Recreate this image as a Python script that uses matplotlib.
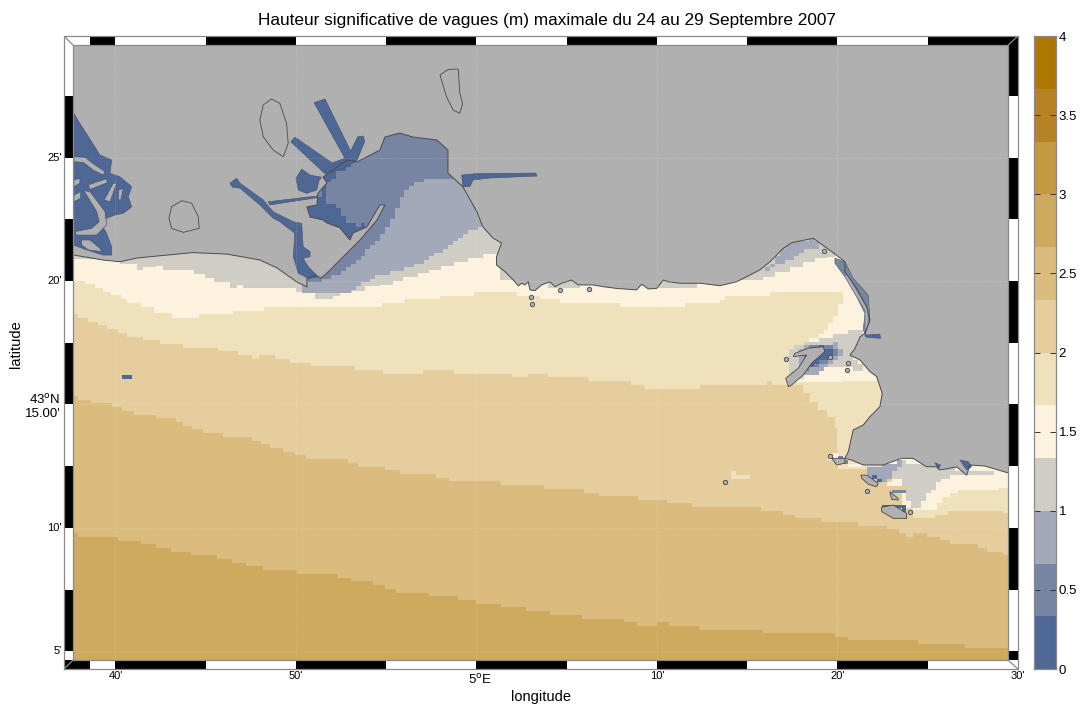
import numpy as np
import matplotlib
matplotlib.use("Agg")
import matplotlib.pyplot as plt
from matplotlib.colors import ListedColormap, BoundaryNorm
from matplotlib.path import Path

plt.rcParams['font.family'] = ['Liberation Sans', 'DejaVu Sans']

# longitudes and latitudes are in minutes: lon 60 = 5 deg E, lat minutes after 43 deg N
TITLE = "Hauteur significative de vagues (m) maximale du 24 au 29 Septembre 2007"

levels = [0, 1/3, 2/3, 1, 4/3, 5/3, 2, 7/3, 8/3, 3, 10/3, 11/3, 4]
band_colors = ['#4f6794', '#7785a3', '#a3a9b8', '#d0cdc5', '#fdf2de', '#f0e1bd',
               '#e6cd9e', '#dbbc7e', '#cdaa5e', '#c39a42', '#b78222', '#ae7800']
cbar_ticks = [0, 0.5, 1, 1.5, 2, 2.5, 3, 3.5, 4]
cbar_labels = ['0', '0.5', '1', '1.5', '2', '2.5', '3', '3.5', '4']

LAND = '#b0b0b0'
LON_MIN, LON_MAX = 37.65, 89.45
LAT_MIN, LAT_MAX = 4.65, 29.55
CELL_LON, CELL_LAT = 0.27, 0.15

# upper limit of each wave height band, (start of step, lat)
limit_b8 = [(37.65, 9.79), (37.94, 9.64), (40.14, 9.49), (41.41, 9.34), (42.24, 9.19), (43.07, 9.04),
            (44.18, 8.89), (45.62, 8.74), (46.45, 8.58), (47.23, 8.45), (48.17, 8.30), (50.06, 8.14),
            (52.33, 7.99), (53.05, 7.84), (54.27, 7.69), (54.93, 7.53), (55.54, 7.38), (57.37, 7.25),
            (58.98, 7.09), (59.97, 6.94), (61.36, 6.79), (62.74, 6.64), (64.07, 6.48), (65.84, 6.33),
            (68.17, 6.18), (68.89, 6.04), (70.0, 6.18), (70.66, 6.04), (72.33, 5.88), (75.87, 5.75),
            (79.86, 5.60), (80.58, 5.45), (84.46, 5.29), (87.06, 5.14)]
limit_b7 = [(37.65, 15.36), (37.94, 15.19), (38.64, 15.05), (39.79, 14.90), (40.34, 14.74), (41.02, 14.59),
            (42.24, 14.45), (43.35, 14.29), (43.74, 14.14), (44.24, 14.0), (44.85, 13.85), (45.96, 13.70),
            (47.56, 13.53), (48.06, 13.39), (48.56, 13.24), (49.28, 13.09), (49.94, 12.96), (50.55, 12.79),
            (52.88, 12.64), (53.43, 12.48), (54.93, 12.35), (55.76, 12.20), (57.76, 12.04), (58.48, 11.89),
            (61.36, 11.74), (63.74, 11.59), (65.96, 11.43), (66.79, 11.30), (68.95, 11.13), (70.55, 11.0),
            (71.94, 10.85), (75.76, 10.69), (76.98, 10.54), (77.65, 10.39), (79.09, 10.24), (81.14, 10.08),
            (82.74, 9.95), (83.41, 9.80), (83.8, 9.65), (84.19, 9.79), (84.96, 9.65), (85.68, 9.50),
            (86.24, 9.35), (87.79, 9.20), (88.29, 9.04), (89.17, 8.89)]
limit_b6 = [(37.65, 18.66), (37.94, 18.51), (38.49, 18.35), (39.05, 18.21), (39.51, 18.06), (40.16, 17.89),
            (40.62, 17.74), (41.51, 17.60), (42.47, 17.45), (43.76, 17.30), (45.66, 17.15), (46.77, 17.0),
            (47.55, 16.84), (47.95, 17.0), (48.85, 16.84), (49.67, 16.69), (50.83, 16.55), (53.27, 16.40),
            (54.84, 16.23), (57.05, 16.40), (58.75, 16.23), (61.97, 16.10), (62.86, 16.23), (63.96, 16.10),
            (66.25, 15.95), (68.54, 15.79), (69.33, 15.64), (72.38, 15.79), (76.09, 15.95), (76.37, 15.79),
            (78.09, 15.47), (78.48, 15.10), (78.92, 14.78), (79.42, 14.49), (79.86, 14.05), (79.97, 13.16),
            (80.03, 12.39), (84.19, 10.40), (85.41, 10.53), (86.13, 10.69), (89.17, 10.61)]
limit_b5 = [(37.65, 20.0), (38.31, 19.87), (38.86, 19.72), (39.32, 19.57), (39.73, 19.42), (40.29, 19.26),
            (40.65, 19.11), (41.41, 18.94), (42.15, 18.69), (43.11, 18.51), (44.64, 18.65), (46.53, 18.80),
            (48.23, 18.95), (54.75, 19.10), (56.04, 19.26), (57.98, 19.39), (59.88, 19.55), (62.26, 19.39),
            (63.52, 19.26), (64.63, 19.12), (67.96, 18.96), (71.55, 19.12), (73.49, 19.23), (73.77, 19.39),
            (76.26, 19.57), (80.30, 15.95), (82.58, 12.39), (84.19, 10.73), (85.52, 11.01), (85.85, 11.26),
            (86.24, 11.42), (86.68, 11.54), (88.89, 11.62)]
limit_b4 = [(37.65, 20.88), (40.25, 20.68), (41.17, 20.45), (41.54, 20.58), (42.23, 20.61), (42.65, 20.45),
            (44.35, 20.28), (44.96, 20.11), (45.47, 19.95), (46.34, 19.73), (46.71, 19.84), (47.08, 19.70),
            (49.98, 19.57), (51.05, 19.26), (52.05, 19.39), (52.44, 19.53), (53.09, 19.60), (53.82, 19.80),
            (54.65, 19.84), (55.36, 20.0), (55.91, 20.15), (56.78, 20.31), (57.38, 20.45), (58.03, 20.61),
            (58.75, 20.76), (59.55, 20.92), (60.38, 21.08), (61.30, 20.04), (63.96, 19.72), (65.73, 20.04),
            (70.0, 19.72), (72.22, 20.04), (75.87, 20.16), (76.53, 20.36), (77.36, 20.57), (78.09, 20.77),
            (78.76, 20.93), (79.42, 20.97), (79.86, 23.28)]
band_limits = [(7, limit_b8), (6, limit_b7), (5, limit_b6), (4, limit_b5), (3, limit_b4)]

# sea patches that the band limits cannot give, (band index, outline), painted in order on the model cells
gulf_light = [(50.78, 19.55), (52.99, 19.55), (54.49, 20.24), (55.93, 20.45), (57.26, 20.85), (58.70, 21.54),
              (60.30, 22.27), (60.30, 24.49), (50.22, 24.49), (50.22, 19.55)]
gulf_mid = [(50.22, 26.11), (59.08, 26.11), (59.08, 24.25), (58.42, 24.21), (57.26, 24.21), (55.93, 23.56),
            (55.37, 22.47), (54.49, 21.54), (53.16, 20.73), (52.05, 20.16), (50.78, 19.92), (50.22, 19.92)]
gulf_dark = [(53.36, 24.86), (52.90, 24.61), (52.44, 24.45), (52.07, 24.20), (51.70, 23.89), (51.70, 23.15),
             (52.29, 22.99), (52.90, 22.40), (53.45, 22.23), (53.92, 22.40), (54.01, 22.20), (53.55, 21.79),
             (52.82, 21.66), (51.70, 22.34), (50.40, 22.60), (50.40, 23.08), (51.33, 23.41), (51.23, 24.22),
             (51.88, 24.41)]
wedge_cream = [(80.41, 19.64), (80.02, 18.70), (79.47, 18.10), (78.75, 17.61), (80.41, 17.61)]
frioul_cream = [(77.26, 15.87), (80.41, 15.87), (80.41, 17.81), (78.48, 17.69), (77.26, 16.80)]
frioul_gray = [(78.75, 17.61), (79.96, 17.81), (81.25, 18.08), (81.43, 17.81), (80.78, 17.0), (81.62, 16.26),
               (80.51, 16.53), (78.85, 16.53), (77.92, 15.99), (77.27, 15.99), (77.27, 17.07), (77.74, 17.34)]
frioul_light = [(77.92, 17.14), (78.36, 17.41), (79.96, 17.48), (80.36, 17.07), (79.75, 16.67), (78.85, 16.26),
                (77.92, 16.13)]
frioul_mid = [(78.10, 17.14), (78.48, 17.34), (79.86, 17.41), (80.04, 17.0), (79.40, 16.67), (78.57, 16.47),
              (78.10, 16.26)]
frioul_dark = [(78.48, 17.14), (79.03, 17.37), (79.76, 17.27), (79.76, 16.93), (79.03, 16.73), (78.48, 16.53)]
bleue_light = [(75.87, 20.32), (76.97, 21.26), (77.46, 21.54), (78.64, 21.70), (79.08, 21.38), (78.09, 21.26),
               (77.46, 20.85), (76.64, 20.65)]
calanques_gray = [(82.45, 12.48), (83.64, 12.69), (85.67, 12.48), (86.59, 12.35), (89.45, 12.35), (89.45, 12.24),
                  (86.59, 12.19), (85.70, 11.94), (84.37, 10.73), (84.0, 10.86), (83.82, 11.27), (83.64, 11.82),
                  (83.27, 12.0), (82.45, 11.94)]
calanques_light = [(81.62, 12.41), (83.64, 12.72), (83.27, 12.35), (82.90, 12.0), (82.53, 11.80), (81.79, 12.07)]
calanques_dark = [(81.69, 12.27), (81.91, 12.15), (82.45, 11.94), (82.35, 11.81), (81.96, 12.01)]
riou_dark = [(82.53, 11.0), (83.46, 11.0), (84.01, 10.80), (83.83, 10.60), (83.09, 10.86), (82.50, 10.80)]
jarre_mid = [(83.19, 11.67), (83.64, 11.54), (83.79, 11.33), (83.42, 11.33), (83.13, 11.47)]
cream_a = [(82.72, 11.81), (83.09, 12.0), (83.64, 12.0), (83.55, 11.74), (82.90, 11.70)]
cream_b = [(83.64, 11.47), (84.23, 10.66), (83.64, 10.93)]
marseille_cream = [(79.74, 13.09), (80.49, 12.72), (81.62, 12.46), (81.15, 12.42), (80.32, 12.55), (79.58, 12.82)]
marseille_mid = [(80.03, 12.91), (80.69, 12.75), (80.58, 12.58), (80.03, 12.66)]
south_patch = [(74.04, 12.21), (74.14, 12.32), (74.32, 12.21), (75.05, 12.21), (75.11, 12.35), (75.33, 12.32),
               (75.24, 12.05), (74.14, 12.05)]
lone_cell = [(40.43, 16.25), (40.84, 16.25), (40.84, 16.05), (40.43, 16.05)]
sea_patches = [(2, gulf_light), (1, gulf_mid), (0, gulf_dark), (4, wedge_cream), (4, frioul_cream), (3, frioul_gray),
               (2, frioul_light), (1, frioul_mid), (0, frioul_dark), (2, bleue_light), (3, calanques_gray),
               (2, calanques_light), (0, calanques_dark), (0, riou_dark), (1, jarre_mid), (4, cream_a), (4, cream_b),
               (4, marseille_cream), (1, marseille_mid), (5, south_patch), (0, lone_cell)]

coast = [(37.65, 21.05), (37.70, 21.05), (39.31, 20.85), (40.25, 20.78), (41.19, 20.93), (42.85, 21.05), (44.29, 21.15),
         (46.18, 21.09), (48.0, 20.85), (48.95, 20.53), (50.05, 19.96), (50.61, 19.76), (50.61, 20.08), (51.05, 20.24),
         (51.38, 20.12), (51.72, 20.32), (52.44, 20.85), (53.55, 21.66), (54.49, 22.47), (54.93, 23.08), (54.65, 23.08),
         (53.93, 22.19), (53.16, 21.94), (52.99, 21.66), (52.44, 22.15), (51.72, 22.35), (51.50, 22.47), (50.78, 22.59),
         (50.61, 23.0), (51.16, 23.08), (51.22, 23.56), (51.72, 23.97), (51.50, 24.21), (51.88, 24.41), (52.82, 24.90),
         (53.38, 24.82), (54.65, 25.30), (54.93, 25.83), (55.76, 25.99), (56.48, 25.83), (57.81, 25.71), (58.42, 25.30),
         (58.42, 24.37), (59.25, 23.81), (60.03, 22.79), (60.36, 22.19), (60.91, 21.74), (61.39, 21.54), (61.11, 20.98),
         (61.11, 20.65), (61.58, 20.38), (62.13, 19.97), (62.32, 19.80), (62.50, 19.91), (62.69, 19.84), (62.87, 19.97),
         (62.96, 19.64), (63.24, 19.61), (63.61, 19.84), (64.07, 19.97), (64.35, 19.77), (64.72, 19.91), (65.27, 20.04),
         (65.64, 19.84), (66.47, 19.84), (67.02, 19.77), (67.76, 19.70), (68.87, 19.64), (69.15, 19.87), (69.52, 19.68),
         (69.98, 19.70), (70.35, 20.04), (70.63, 19.97), (71.27, 19.91), (72.38, 19.91), (73.49, 19.81), (74.41, 19.97),
         (75.33, 20.31), (75.70, 20.45), (76.26, 20.78), (76.99, 21.32), (77.46, 21.55), (78.66, 21.73), (79.03, 21.53),
         (79.68, 21.19), (80.41, 20.78), (80.41, 20.38), (81.06, 19.70), (81.61, 18.96), (81.80, 18.42), (81.52, 17.88),
         (81.25, 17.74), (80.97, 17.27), (80.69, 17.0), (81.25, 16.80), (81.80, 16.33), (82.17, 16.13), (82.48, 15.45),
         (82.35, 14.91), (81.80, 14.51), (81.43, 14.17), (80.87, 13.97), (80.60, 13.09), (80.41, 12.82), (80.78, 12.75),
         (81.43, 12.55), (82.53, 12.55), (83.55, 12.82), (84.19, 12.82), (84.93, 12.48), (85.48, 12.48), (85.67, 12.35),
         (86.61, 12.47), (87.16, 12.14), (87.33, 12.55), (88.16, 12.51), (89.45, 12.23)]

# water inside the land
arm_ne = [(51.0, 27.22), (51.61, 27.37), (53.03, 25.26), (53.42, 25.84), (53.73, 25.87), (53.81, 25.64), (53.36, 24.86),
          (52.62, 24.56), (51.61, 24.34), (49.71, 25.64), (49.95, 25.82), (52.0, 24.78), (52.71, 24.97)]
pond_dark = [(50.32, 24.53), (50.0, 24.16), (50.13, 23.68), (50.59, 23.55), (51.15, 23.68), (51.29, 24.09),
             (51.42, 24.20), (50.78, 24.29)]
arm_w = [(46.34, 23.96), (46.71, 24.16), (46.90, 23.96), (48.19, 23.28), (48.74, 22.80), (49.85, 22.40), (50.32, 22.33),
         (50.40, 21.39), (50.78, 21.19), (50.78, 20.98), (50.40, 20.92), (50.68, 20.58), (51.23, 20.17), (50.68, 20.11),
         (50.13, 20.31), (49.85, 20.98), (49.94, 21.93), (49.11, 22.40), (48.72, 22.55), (48.0, 23.08), (46.90, 23.76),
         (46.49, 23.79)]
link = [(48.46, 23.21), (51.15, 23.44), (51.15, 23.37), (48.56, 23.08)]
port_canal = [(59.18, 24.29), (60.03, 24.35), (63.29, 24.37), (63.35, 24.25), (60.75, 24.17), (59.81, 24.09),
              (59.64, 23.82), (59.25, 23.82)]
delta = [(37.65, 26.79), (37.70, 26.79), (38.03, 26.38), (38.68, 25.64), (39.14, 25.10), (39.79, 24.90), (39.70, 24.36),
         (40.25, 24.22), (40.90, 23.82), (40.71, 23.41), (40.90, 23.0), (40.43, 22.74), (39.97, 22.67), (39.51, 22.54),
         (39.24, 22.27), (39.51, 21.93), (39.79, 21.39), (39.79, 21.05), (39.32, 21.05), (38.40, 21.26), (37.65, 21.46)]
coast_strip = [(79.86, 20.92), (80.41, 20.78), (80.87, 20.11), (81.70, 19.43), (81.80, 18.42), (81.52, 17.81),
               (81.61, 17.72), (81.43, 18.02), (81.52, 18.69), (81.06, 19.36), (80.41, 20.17), (79.86, 20.72)]
strip_end = [(81.52, 17.81), (82.35, 17.85), (82.39, 17.68), (81.61, 17.72)]
inlet_a = [(86.78, 12.75), (87.24, 12.69), (87.43, 12.48), (87.15, 12.35)]
inlet_b = [(85.40, 12.64), (85.71, 12.55), (85.58, 12.37)]
inland_water = [(0, arm_ne), (0, pond_dark), (0, arm_w), (0, link), (0, port_canal), (0, delta), (1, coast_strip),
                (0, strip_end), (0, inlet_a), (0, inlet_b)]
spit_lon = [80.51, 81.61, 81.61]
spit_lat = [20.17, 18.83, 18.16]

# bits of land inside the water
isle_a = [(37.70, 25.03), (38.31, 25.01), (38.86, 24.70), (39.42, 24.43), (39.32, 24.29), (38.77, 24.49),
          (38.22, 24.80), (37.70, 24.83)]
isle_b = [(38.49, 23.89), (39.51, 24.14), (39.55, 23.98), (38.59, 23.71)]
isle_c = [(38.25, 23.66), (38.59, 23.62), (39.42, 22.81), (39.51, 22.27), (38.96, 21.86), (37.85, 21.86), (37.76, 22.0),
          (38.68, 22.13), (39.10, 22.40), (38.96, 22.81)]
isle_d = [(39.38, 23.28), (39.88, 23.96), (40.07, 23.96), (39.70, 23.21)]
isle_e = [(40.16, 23.68), (40.43, 23.75), (40.30, 23.28), (40.16, 23.28)]
isle_f = [(38.13, 21.66), (38.59, 21.66), (39.14, 21.32), (39.24, 21.19), (38.49, 21.26), (38.13, 21.46)]
isle_g = [(37.70, 24.09), (38.03, 24.16), (38.03, 23.96), (37.70, 23.82)]
isle_h = [(37.70, 23.48), (38.07, 23.62), (38.07, 23.35), (37.70, 23.21)]
frioul = [(77.28, 15.72), (77.13, 16.06), (77.83, 16.47), (78.29, 17.0), (77.55, 16.94), (77.64, 17.07), (78.38, 17.28),
          (79.21, 17.34), (79.30, 17.14), (78.57, 16.67), (78.10, 16.19), (77.46, 15.79)]
maire = [(79.68, 12.82), (80.41, 12.82), (80.41, 12.62), (79.96, 12.55)]
riou_strip = [(81.30, 12.14), (81.62, 12.14), (82.26, 11.81), (82.17, 11.67), (81.71, 11.77), (81.34, 12.01)]
jarre = [(82.90, 11.47), (83.36, 11.20), (83.36, 11.13), (83.0, 11.16)]
riou = [(82.45, 10.84), (83.09, 10.93), (83.83, 10.59), (83.83, 10.39), (83.09, 10.39), (82.45, 10.66)]
delta_isles = [isle_a, isle_b, isle_c, isle_d, isle_e, isle_f, isle_g, isle_h]
sea_isles = [frioul, maire, riou_strip, jarre, riou]
islets_lon = [77.13, 79.58, 80.60, 80.52, 79.25, 63.0, 63.06, 64.63, 66.25, 73.77, 79.58, 81.63, 84.0]
islets_lat = [16.83, 16.92, 16.67, 16.40, 21.21, 19.34, 19.08, 19.64, 19.66, 11.87, 12.92, 11.51, 10.63]

pond_1 = [(48.65, 27.37), (49.11, 27.19), (49.48, 26.38), (49.57, 25.57), (49.30, 25.03), (48.74, 25.30), (48.19, 25.84),
          (48.0, 26.52), (48.19, 27.13)]
pond_2 = [(43.67, 23.25), (44.22, 23.15), (44.59, 22.60), (44.64, 22.13), (43.76, 21.97), (43.11, 22.13), (42.96, 22.54),
          (43.11, 23.01)]
pond_3 = [(57.98, 28.34), (58.44, 28.57), (58.99, 28.58), (59.08, 27.60), (59.23, 27.19), (59.08, 26.79), (58.71, 26.92),
          (58.34, 27.46)]
empty_ponds = [pond_1, pond_2, pond_3]

# frame of the map
grid_lon = [40, 50, 60, 70, 80]
grid_lat = [5, 10, 15, 20, 25]
frame_lon = [37.15, 38.58, 40, 45, 50, 55, 60, 65, 70, 75, 80, 85, 90]
frame_lat = [4.29, 5, 7.5, 10, 12.5, 15, 17.5, 20, 22.5, 25, 27.5, 29.92]
lon_labels = {40: "40'", 50: "50'", 70: "10'", 80: "20'", 90: "30'"}
lat_labels = {5: "5'", 10: "10'", 20: "20'", 25: "25'"}


fig = plt.figure(figsize=(10.88, 7.08), dpi=100)
ax = fig.add_axes([64 / 1088, 1 - 669 / 708, (1018 - 64) / 1088, (669 - 36) / 708])
ax.set_xlim(frame_lon[0], frame_lon[-1])
ax.set_ylim(frame_lat[0], frame_lat[-1])
ax.set_axis_off()

cmap = ListedColormap(band_colors)
norm = BoundaryNorm(levels, cmap.N)

# sea
ax.fill_between([LON_MIN, LON_MAX], LAT_MIN, LAT_MAX, color=band_colors[8], lw=0, zorder=1)
for idx, limit in band_limits:
    lons, lats = np.array(limit).T
    lons = np.append(lons, LON_MAX)
    lats = np.append(lats, lats[-1])
    ax.fill_between(lons, lats, LAT_MAX, step='post', color=band_colors[idx], lw=0, zorder=2)

# patches fall on the model cells, which gives the stairs along their edges
cell_lon = np.arange(LON_MIN, LON_MAX + CELL_LON, CELL_LON)
cell_lat = np.arange(LAT_MIN, LAT_MAX + CELL_LAT, CELL_LAT)
mid_lon, mid_lat = np.meshgrid(cell_lon[:-1] + CELL_LON / 2, cell_lat[:-1] + CELL_LAT / 2)
centres = np.column_stack([mid_lon.ravel(), mid_lat.ravel()])
field = np.full(mid_lon.shape, np.nan)
for idx, outline in sea_patches:
    inside = Path(outline).contains_points(centres).reshape(mid_lon.shape)
    field[inside] = (levels[idx] + levels[idx + 1]) / 2
ax.pcolormesh(cell_lon, cell_lat, np.ma.masked_invalid(field), cmap=cmap, norm=norm, zorder=3)

# land
land = coast + [(LON_MAX, LAT_MAX), (LON_MIN, LAT_MAX)]
ax.fill(*zip(*land), color=LAND, lw=0, zorder=4)
ax.plot(*zip(*coast), color='#4a4a4a', lw=0.7, zorder=6)

for idx, outline in inland_water:
    ax.fill(*zip(*outline), facecolor=band_colors[idx], edgecolor='#44526e', lw=0.4, zorder=5)
ax.plot(spit_lon, spit_lat, color=LAND, lw=1.6, zorder=5)
for outline in delta_isles:
    ax.fill(*zip(*outline), facecolor=LAND, edgecolor='#3f4d6a', lw=0.4, zorder=5)
for outline in sea_isles:
    ax.fill(*zip(*outline), facecolor=LAND, edgecolor='#444444', lw=0.6, zorder=6)
ax.scatter(islets_lon, islets_lat, s=10, facecolor=LAND, edgecolor='#444444', lw=0.6, zorder=6)
for outline in empty_ponds:
    ax.fill(*zip(*outline), facecolor='none', edgecolor='#4a4a4a', lw=0.6, closed=True, zorder=6)

# dotted graticule
grid_kw = dict(color='#f4f4f4', lw=0.4, ls=(0, (1, 3)), alpha=0.65, zorder=7)
for lon in grid_lon:
    ax.plot([lon, lon], [LAT_MIN, LAT_MAX], **grid_kw)
for lat in grid_lat:
    ax.plot([LON_MIN, LON_MAX], [lat, lat], **grid_kw)

# fancy black and white border
ax.fill_between([frame_lon[0], frame_lon[-1]], frame_lat[0], LAT_MIN, color='white', lw=0, zorder=8)
ax.fill_between([frame_lon[0], frame_lon[-1]], LAT_MAX, frame_lat[-1], color='white', lw=0, zorder=8)
ax.fill_between([frame_lon[0], LON_MIN], frame_lat[0], frame_lat[-1], color='white', lw=0, zorder=8)
ax.fill_between([LON_MAX, frame_lon[-1]], frame_lat[0], frame_lat[-1], color='white', lw=0, zorder=8)
for i in range(len(frame_lon) - 1):
    lo, hi = (frame_lat[0], LAT_MIN) if i % 2 == 0 else (LAT_MAX, frame_lat[-1])
    ax.fill_between([frame_lon[i], frame_lon[i + 1]], lo, hi, color='black', lw=0, zorder=9)
for i in range(len(frame_lat) - 1):
    lo, hi = max(frame_lat[i], LAT_MIN), min(frame_lat[i + 1], LAT_MAX)
    if i % 2 == 1:
        ax.fill_between([frame_lon[0], LON_MIN], lo, hi, color='black', lw=0, zorder=9)
    else:
        ax.fill_between([LON_MAX, frame_lon[-1]], lo, hi, color='black', lw=0, zorder=9)

frame_kw = dict(color='#8a8a8a', lw=0.9, zorder=10)
x0, x1, y0, y1 = frame_lon[0], frame_lon[-1], frame_lat[0], frame_lat[-1]
ax.plot([x0, x1, x1, x0, x0], [y0, y0, y1, y1, y0], clip_on=False, **frame_kw)
ax.plot([LON_MIN, LON_MAX, LON_MAX, LON_MIN, LON_MIN], [LAT_MIN, LAT_MIN, LAT_MAX, LAT_MAX, LAT_MIN], **frame_kw)
ax.plot([x0, LON_MIN], [y1, LAT_MAX], **frame_kw)
ax.plot([x1, LON_MAX], [y1, LAT_MAX], **frame_kw)
ax.plot([x0, LON_MIN], [y0, LAT_MIN], **frame_kw)
ax.plot([x1, LON_MAX], [y0, LAT_MIN], **frame_kw)

# graticule labels
for lon, txt in lon_labels.items():
    ax.text(lon, 4.02, txt, fontsize=8, ha='center', va='center', clip_on=False)
ax.text(60.2, 3.85, "5$^{\\mathrm{o}}$E", fontsize=9.5, ha='center', va='center', clip_on=False)
for lat, txt in lat_labels.items():
    ax.text(37.03, lat, txt, fontsize=8, ha='right', va='center', clip_on=False)
ax.text(36.95, 15.18, "43$^{\\mathrm{o}}$N", fontsize=9.5, ha='right', va='center', clip_on=False)
ax.text(36.95, 14.61, "15.00'", fontsize=9.5, ha='right', va='center', clip_on=False)

fig.text(547 / 1088, 1 - 20 / 708, TITLE, fontsize=12.45, ha='center', va='center')
fig.text(541 / 1088, 1 - 697 / 708, "longitude", fontsize=10.5, ha='center', va='center')
fig.text(16 / 1088, 1 - 344 / 708, "latitude", fontsize=10.5, rotation=90, ha='center', va='center')

# colour bar
cax = fig.add_axes([1034 / 1088, 1 - 669 / 708, 22 / 1088, (669 - 36) / 708])
cax.pcolormesh([0, 1], levels, np.array(levels[:-1])[:, None] + 1e-6, cmap=cmap, norm=norm)
cax.set_xticks([])
cax.set_ylim(0, 4)
cax.set_yticks(cbar_ticks)
cax.set_yticklabels(cbar_labels, fontsize=9.5)
cax.yaxis.tick_right()
cax.tick_params(axis='y', left=True, right=True, direction='in', length=4, width=0.7, color='#333333', pad=2)
for spine in cax.spines.values():
    spine.set_color('#8a8a8a')
    spine.set_linewidth(0.9)

fig.savefig('out.png', dpi=100)
